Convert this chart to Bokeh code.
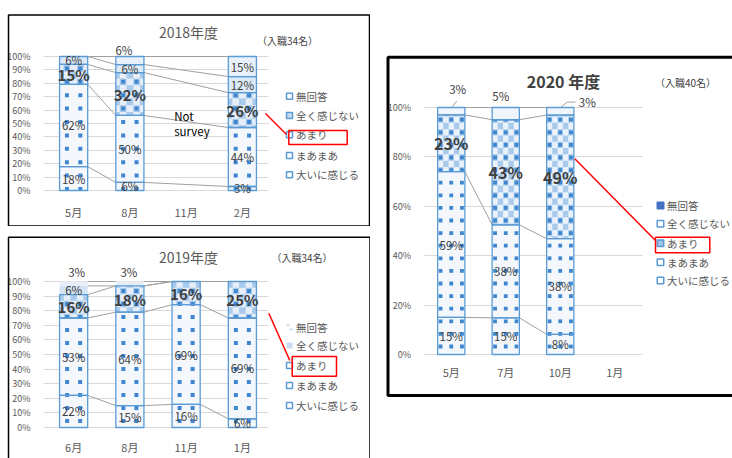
import math
from bokeh.plotting import figure
from bokeh.layouts import row, column
from bokeh.models import (Range1d, FixedTicker, NumeralTickFormatter, LinearAxis, Grid,
                          BoxAnnotation, Label, Arrow)
from bokeh.core.properties import value
from bokeh.embed import file_html
from bokeh.resources import INLINE

JP = "Noto Sans CJK JP"

# answer categories, stacked from the bottom of each bar to the top
series_names = ["大いに感じる", "まあまあ", "あまり", "全く感じない", "無回答"]

# FY2018 (34 hires) - November was not surveyed
months_2018 = ["5月", "8月", "11月", "2月"]
oini_2018 = [18, 6, None, 3]
maamaa_2018 = [62, 50, None, 44]
amari_2018 = [15, 32, None, 26]
mattaku_2018 = [6, 6, None, 12]
mukaitou_2018 = [0, 6, None, 15]

# FY2019 (34 hires)
months_2019 = ["6月", "8月", "11月", "1月"]
oini_2019 = [22, 15, 16, 6]
maamaa_2019 = [53, 64, 69, 69]
amari_2019 = [16, 18, 16, 25]
mattaku_2019 = [6, 0, 0, 0]
mukaitou_2019 = [3, 3, 0, 0]

# FY2020 (40 hires) - January not yet surveyed
months_2020 = ["5月", "7月", "10月", "1月"]
oini_2020 = [15, 15, 8, None]
maamaa_2020 = [59, 38, 38, None]
amari_2020 = [23, 43, 49, None]
mattaku_2020 = [3, 5, 3, None]
mukaitou_2020 = [0, 0, 0, None]

ticks_10 = [0, 0.1, 0.2, 0.3, 0.4, 0.5, 0.6, 0.7, 0.8, 0.9, 1.0]
ticks_20 = [0, 0.2, 0.4, 0.6, 0.8, 1.0]

BLUE = "#5B9BD5"
DOT = "#3E86CF"
CHECK = "#A9CAEA"
GRID = "#D9D9D9"
SERIES_LINE = "#A0A0A0"
TXT = "#404040"
GREY_TXT = "#595959"
RED = "#FF0000"


def stacks(series):
    """100%-stacked segments per bar: list of (bottom, top, value) or None."""
    out = []
    for i in range(len(series[0])):
        vals = [s[i] for s in series]
        if vals[0] is None:
            out.append(None)
            continue
        tot = float(sum(vals))
        cum, segs = 0.0, []
        for v in vals:
            segs.append((cum / tot, (cum + v) / tot, v))
            cum += v
        out.append(segs)
    return out


def build(c):
    W, H = c["canvas"]
    fl, ft, fr, fb = c["plot_area"]          # bar area inside the canvas, px
    months = c["months"]
    n = len(months)
    fw, fh = fr - fl, fb - ft
    ppu = fw / n
    half_bar = 0.25 * ppu

    # the frame spans the whole canvas; data 0..1 / bar slots map onto the bar area
    p = figure(width=W, height=H, output_backend="svg", toolbar_location=None, title=None,
               x_range=Range1d(-0.5 - fl / ppu, n - 0.5 + (W - fr) / ppu),
               y_range=Range1d(-(H - fb) / fh, 1 + ft / fh),
               x_axis_location=None, y_axis_location=None,
               min_border=0, min_border_left=0, min_border_right=0,
               min_border_top=0, min_border_bottom=0,
               background_fill_color="white", border_fill_color="white")
    p.outline_line_color = None
    p.grid.visible = False

    yax = LinearAxis(fixed_location=-0.5, ticker=FixedTicker(ticks=c["yticks"]),
                     formatter=NumeralTickFormatter(format="0%"))
    xax = LinearAxis(fixed_location=0, ticker=FixedTicker(ticks=list(range(n))),
                     major_label_overrides={i: m for i, m in enumerate(months)})
    for ax in (xax, yax):
        ax.axis_line_color = None
        ax.major_tick_line_color = None
        ax.minor_tick_line_color = None
        ax.major_label_text_font = JP
        ax.major_label_text_color = GREY_TXT
    yax.major_label_text_font_size = "9px"
    yax.major_label_standoff = c["ystand"]
    xax.major_label_text_font_size = "11px"
    xax.major_label_standoff = c["xstand"]
    p.add_layout(yax, "left")
    p.add_layout(xax, "below")

    g0, g1 = c["grid_x"]
    grid = Grid(dimension=1, ticker=FixedTicker(ticks=c["yticks"]), grid_line_color=GRID)
    if "cross_bounds" in grid.properties():
        grid.cross_bounds = (-0.5 + g0 / ppu, n - 0.5 + g1 / ppu)
        p.add_layout(grid)
    else:
        k = len(c["yticks"])
        p.segment(x0=[-0.5 + g0 / ppu] * k, x1=[n - 0.5 + g1 / ppu] * k,
                  y0=c["yticks"], y1=c["yticks"], line_color=GRID, line_width=1)

    def sx(x):
        return x

    def sy(y):
        return H - y

    def box(x0, y0, x1, y1, **kw):
        style = dict(fill_color=None, fill_alpha=1.0, line_alpha=1.0, line_color=None,
                     line_width=1, line_dash="solid")
        style.update(kw)
        p.add_layout(BoxAnnotation(left=sx(x0), right=sx(x1), top=sy(y0), bottom=sy(y1),
                                   left_units="screen", right_units="screen",
                                   top_units="screen", bottom_units="screen", **style))

    def text(x, y, t, size, color=TXT, align="center", bold=False):
        p.add_layout(Label(x=sx(x), y=sy(y), x_units="screen", y_units="screen", text=t,
                           text_font=JP, text_font_size=size, text_color=color,
                           text_align=align, text_baseline="middle",
                           text_font_style="bold" if bold else "normal"))

    def line(pts, color, width):
        for (x0, y0), (x1, y1) in zip(pts[:-1], pts[1:]):
            p.add_layout(Arrow(x_start=sx(x0), y_start=sy(y0), x_end=sx(x1), y_end=sy(y1),
                               start_units="screen", end_units="screen", end=None,
                               line_color=color, line_width=width))

    def tiles(i, lo, hi, xoffs, y0, dy, w, h, out):
        """pattern tiles for bar i between lo..hi px (above the bar base), clipped to the bar"""
        m = math.floor((lo - y0 - h / 2) / dy)
        while True:
            y = y0 + m * dy
            if y - h / 2 >= hi:
                break
            yb, yt = max(y - h / 2, lo), min(y + h / 2, hi)
            if yt - yb > 0.3:
                for off in xoffs:
                    xl, xr = max(off - w / 2, -half_bar), min(off + w / 2, half_bar)
                    if xr - xl > 0.3:
                        out[0].append(i + xl / ppu); out[1].append(i + xr / ppu)
                        out[2].append(yb / fh); out[3].append(yt / fh)
            m += 1

    bars = stacks(c["series"])
    present = [i for i, b in enumerate(bars) if b is not None]

    # series lines joining the segment boundaries of neighbouring bars
    x0s, y0s, x1s, y1s = [], [], [], []
    for a, b in zip(present[:-1], present[1:]):
        for k in range(5):
            x0s.append(a + 0.25)
            y0s.append(bars[a][k][1])
            x1s.append(b - 0.25)
            y1s.append(bars[b][k][1])
    p.segment(x0=x0s, y0=y0s, x1=x1s, y1=y1s, line_color=SERIES_LINE, line_width=1)

    # stacked segments: fills first
    seg = []
    for k in range(5):
        xs, bot, top = [], [], []
        for i in present:
            b0, b1, v = bars[i][k]
            if v > 0:
                xs.append(i)
                bot.append(b0)
                top.append(b1)
        seg.append((xs, bot, top))
        p.vbar(x=xs, bottom=bot, top=top, width=0.5, fill_color=c["styles"][k][0],
               line_color=None)

    # checker texture on 「あまり」 and dot pattern over the lower three segments
    d = c["dots"]
    cw, ch = d["dx_step"] / 2, d["dy"] / 2
    chk = ([], [], [], [])
    dots = ([], [], [], [])
    for i in present:
        lo, hi = bars[i][2][0] * fh, bars[i][2][1] * fh
        tiles(i, lo, hi, d["dx"], d["y0"], d["dy"], cw, ch, chk)
        tiles(i, lo, hi, [o + cw for o in d["dx"]] + [d["dx"][0] - cw],
              d["y0"] + ch, d["dy"], cw, ch, chk)
        tiles(i, 0, hi, d["dx"], d["y0"], d["dy"], d["size"], d["size"], dots)
    p.quad(left=chk[0], right=chk[1], bottom=chk[2], top=chk[3], fill_color=CHECK, line_color=None)
    p.quad(left=dots[0], right=dots[1], bottom=dots[2], top=dots[3], fill_color=DOT, line_color=None)

    # segment outlines on top
    for k in range(5):
        edge = c["styles"][k][1]
        if edge is None:
            continue
        xs, bot, top = seg[k]
        p.vbar(x=xs, bottom=bot, top=top, width=0.5, fill_color=None,
               line_color=edge, line_width=1.3)

    # value labels
    nx, ny, nt, bx, by, bt = [], [], [], [], [], []
    for i in present:
        for k in range(5):
            b0, b1, v = bars[i][k]
            if v <= 0:
                continue
            t = f"{v}%"
            if (i, k) in c["above"]:
                dx, dy = c["above"][(i, k)]
                nx.append(i + dx / ppu); ny.append(1 + dy / fh); nt.append(t)
            elif k == 2:
                bx.append(i); by.append((b0 + b1) / 2); bt.append(t)
            else:
                nx.append(i); ny.append((b0 + b1) / 2); nt.append(t)
    p.text(x=nx, y=ny, text=nt, text_font=value(JP), text_font_size="11.5px", text_color=TXT,
           text_align="center", text_baseline="middle")
    p.text(x=bx, y=by, text=bt, text_font=value(JP), text_font_size=c["bold_size"],
           text_color=TXT, text_font_style="bold", text_align="center", text_baseline="middle")

    # leader lines from bar tops to labels placed above
    for i, pts in c["leaders"].items():
        cx = fl + (i + 0.5) * ppu
        line([(cx + ddx, ft - ddy) for ddx, ddy in pts], SERIES_LINE, 1)

    # survey gap note
    for i, (lines, dx) in c.get("notes", {}).items():
        cx = fl + (i + 0.5) * ppu
        for t, yy in lines:
            text(cx + dx, yy, t, "11.5px", color="#000000", align="left")

    # legend (top row = 無回答)
    lg = c["legend"]
    s = lg["size"]
    for r, name in enumerate(reversed(series_names)):
        y = lg["ys"][r]
        mk = lg["markers"][r]
        if mk[0] == "dash":
            box(lg["x"] - s / 2, y - s / 2, lg["x"], y - s / 2 + 1.5, fill_color=mk[1])
            box(lg["x"], y + s / 2 - 1.5, lg["x"] + s / 2, y + s / 2, fill_color=mk[1])
        else:
            box(lg["x"] - s / 2, y - s / 2, lg["x"] + s / 2, y + s / 2,
                fill_color=mk[0], line_color=mk[1], line_width=1.5)
        text(lg["tx"], y, name, "10.5px", color=GREY_TXT, align="left")

    # highlight on 「あまり」
    box(*c["red_box"], line_color=RED, line_width=1.5)
    line(c["red_line"], RED, 1.5)

    # titles
    text(*c["title_xy"], c["title"], c["title_size"], color=c["title_color"], bold=c["title_bold"])
    text(*c["note_xy"], c["note"], "10px", color=TXT)

    # chart frame
    box(*c["box"], line_color="#000000", line_width=c["box_w"])
    return p


light = "#F4F8FD"
cfg_2018 = dict(
    months=months_2018,
    series=[oini_2018, maamaa_2018, amari_2018, mattaku_2018, mukaitou_2018],
    canvas=(370, 226), plot_area=(45, 56, 270, 190), grid_x=(-2, -2),
    xstand=7, ystand=9, yticks=ticks_10, bold_size="15px",
    styles=[(light, BLUE), (light, BLUE), ("#E6EFF9", BLUE), ("#DCE9F6", BLUE), ("#E8F0F9", BLUE)],
    dots=dict(dx=[-6.7, 6.7], dx_step=13.4, dy=13.4, y0=1.5, size=4),
    above={(1, 4): (-6, 7)}, leaders={},
    notes={2: ([("Not", 115), ("survey", 130)], -12)},
    legend=dict(x=289, tx=295.5, size=6, ys=[95.7, 115, 134.3, 155, 174.3],
                markers=[("white", BLUE), ("#C6DBF0", BLUE), ("white", BLUE),
                         ("white", BLUE), ("white", BLUE)]),
    red_box=(288.3, 130, 346.7, 144), red_line=[(265, 113), (286, 134)],
    title="2018年度", title_xy=(188, 31.5), title_size="14px", title_color=GREY_TXT,
    title_bold=False, note="（入職34名）", note_xy=(287, 40),
    box=(8, 14.5, 369, 225.5), box_w=1.5,
)

cfg_2019 = dict(
    months=months_2019,
    series=[oini_2019, maamaa_2019, amari_2019, mattaku_2019, mukaitou_2019],
    canvas=(370, 232), plot_area=(45, 55, 270, 201), grid_x=(-2, -2),
    xstand=5, ystand=9, yticks=ticks_10, bold_size="15px",
    styles=[(light, BLUE), (light, BLUE), ("#E6EFF9", BLUE), ("#D3E3F4", None), ("#E6EFF9", None)],
    dots=dict(dx=[-6.5, 6.5], dx_step=13, dy=13, y0=6.5, size=4),
    above={(0, 4): (3, 10), (1, 4): (-1, 9.5)}, leaders={},
    legend=dict(x=289, tx=295.5, size=6, ys=[100.7, 119, 139, 159, 179],
                markers=[("dash", "#BDD5EE"), ("#C9DCF1", None), ("white", BLUE),
                         ("white", BLUE), ("white", BLUE)]),
    red_box=(291.7, 130, 336, 149.7), red_line=[(268.3, 86.7), (289.3, 134)],
    title="2019年度", title_xy=(188, 30), title_size="14px", title_color=GREY_TXT,
    title_bold=False, note="（入職34名）", note_xy=(301.5, 30.7),
    box=(8, 10.7, 369.5, 240), box_w=1.5,
)

cfg_2020 = dict(
    months=months_2020,
    series=[oini_2020, maamaa_2020, amari_2020, mattaku_2020, mukaitou_2020],
    canvas=(362, 458), plot_area=(53.5, 107, 271.5, 354), grid_x=(0, 0),
    xstand=3, ystand=7, yticks=ticks_20, bold_size="16px",
    styles=[(light, BLUE), (light, BLUE), ("#EAF2FB", BLUE), ("#F0F5FB", BLUE), ("#4472C4", BLUE)],
    dots=dict(dx=[-10.7, 0, 10.7], dx_step=10.7, dy=12.6, y0=8, size=3.8),
    above={(0, 3): (6.4, 19), (1, 3): (-5, 12), (2, 3): (27, 5.5)},
    leaders={0: [(0.5, 0), (5.5, 6.5)], 2: [(0.2, 0), (6.9, 5.3), (15.2, 5.5)]},
    legend=dict(x=290, tx=296.5, size=6.5, ys=[205, 223.3, 242.7, 261.7, 280],
                markers=[("#4472C4", "#4472C4"), ("white", BLUE), ("#9DC3E6", BLUE),
                         ("white", BLUE), ("white", BLUE)]),
    red_box=(285, 236.7, 339.3, 252.3), red_line=[(204.3, 158.3), (285, 240)],
    title="2020 年度", title_xy=(193, 80), title_size="16px", title_color=TXT,
    title_bold=True, note="（入職40名）", note_xy=(315, 81.7),
    box=(17.5, 56.7, 370, 395), box_w=3,
)

p18 = build(cfg_2018)
p19 = build(cfg_2019)
p20 = build(cfg_2020)

page = row(column(p18, p19), p20)
open("out.html", "w").write(file_html(page, INLINE))
